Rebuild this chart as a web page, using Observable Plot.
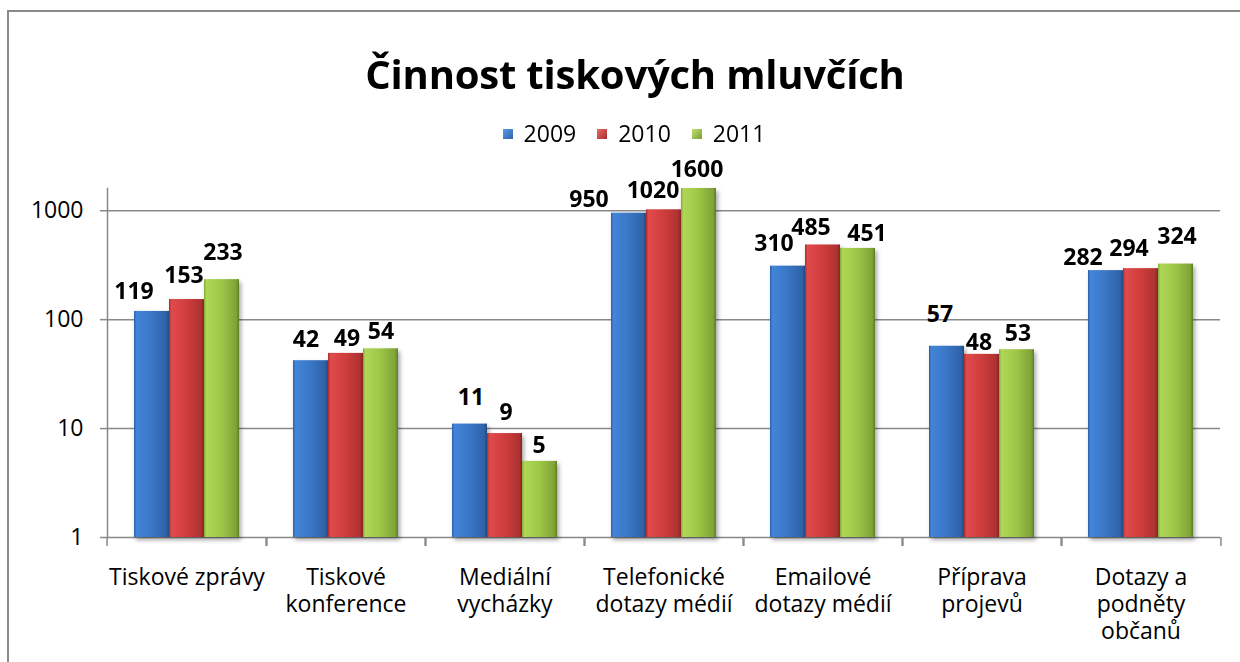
<!DOCTYPE html>
<html>
<head>
<meta charset="utf-8">
<script src="https://cdn.jsdelivr.net/npm/d3@7"></script>
<script src="https://cdn.jsdelivr.net/npm/@observablehq/plot@0.6"></script>
<style>
  html, body { margin: 0; padding: 0; background: #fff; }
  body { width: 1240px; height: 662px; overflow: hidden; position: relative; font-family: "Open Sans", sans-serif; color: #000; }
  #chart { position: absolute; left: 0; top: 0; }
  #frame { position: absolute; left: 7px; top: 10px; width: 1300px; height: 700px; border-top: 2px solid #8a8a8a; border-left: 2px solid #8a8a8a; pointer-events: none; }
  #title { position: absolute; left: 0; top: 54px; width: 1270px; text-align: center; font-weight: 700; font-size: 40px; line-height: 1; white-space: nowrap; letter-spacing: -0.2px; }
  #legend { position: absolute; left: 0; top: 122px; width: 1268px; display: flex; justify-content: center; align-items: center; font-size: 23px; line-height: 1; }
  .item { display: flex; align-items: center; margin: 0 10.5px; }
  .sw { width: 10px; height: 10px; margin-right: 11px; }
</style>
</head>
<body>
<div id="chart"></div>
<div id="frame"></div>
<div id="title">Činnost tiskových mluvčích</div>
<div id="legend"></div>
<svg width="0" height="0" style="position:absolute">
  <defs>
    <linearGradient id="gb" x1="0" x2="1" y1="0" y2="0">
      <stop offset="0" stop-color="#2b5fa6"/>
      <stop offset="0.07" stop-color="#4285d8"/>
      <stop offset="0.5" stop-color="#3a76c6"/>
      <stop offset="0.92" stop-color="#2f62a7"/>
      <stop offset="1" stop-color="#224a80"/>
    </linearGradient>
    <linearGradient id="gr" x1="0" x2="1" y1="0" y2="0">
      <stop offset="0" stop-color="#a82c2c"/>
      <stop offset="0.07" stop-color="#e04a4a"/>
      <stop offset="0.5" stop-color="#d03d3d"/>
      <stop offset="0.92" stop-color="#ad3131"/>
      <stop offset="1" stop-color="#842222"/>
    </linearGradient>
    <linearGradient id="gg" x1="0" x2="1" y1="0" y2="0">
      <stop offset="0" stop-color="#82a936"/>
      <stop offset="0.07" stop-color="#afd657"/>
      <stop offset="0.5" stop-color="#9dc647"/>
      <stop offset="0.92" stop-color="#7fa337"/>
      <stop offset="1" stop-color="#5e7c26"/>
    </linearGradient>
  </defs>
</svg>
<script>
// ---- data ----
const categories = ["Tiskové zprávy", "Tiskové konference", "Mediální vycházky", "Telefonické dotazy médií", "Emailové dotazy médií", "Příprava projevů", "Dotazy a podněty občanů"];
const tickLabels = ["Tiskové zprávy", "Tiskové\nkonference", "Mediální\nvycházky", "Telefonické\ndotazy médií", "Emailové\ndotazy médií", "Příprava\nprojevů", "Dotazy a\npodněty\nobčanů"];
const years = ["2009", "2010", "2011"];
const values2009 = [119, 42, 11, 950, 310, 57, 282];
const values2010 = [153, 49, 9, 1020, 485, 48, 294];
const values2011 = [233, 54, 5, 1600, 451, 53, 324];
const yTicks = [1, 10, 100, 1000];

// ---- styling (label nudges, px) ----
const labelDx = [[-18, -3, 1], [-5, 1, 0], [1, 1, -1], [-40, -11, -2], [-14, -12, 9], [-7, -3, 1], [-23, -12, 1]];
const labelDy = [[-12, -17, -20], [-14, -7, -10], [-19, -14, -8], [-6, -12, -12], [-15, -10, -7], [-24, -4, -9], [-6, -13, -20]];
const fills = ["url(#gb)", "url(#gr)", "url(#gg)"];
const swatchCss = [
  "linear-gradient(135deg,#5b9be6,#2e64ad)",
  "linear-gradient(135deg,#ee6a6a,#a72c2c)",
  "linear-gradient(135deg,#bfe070,#7a9f32)"
];

const series = [values2009, values2010, values2011];
const table = categories.flatMap((c, i) => years.map((y, j) => ({cat: c, year: y, value: series[j][i], i, j})));

const W = 1240, H = 662;
const mL = 104, mR = 17, mT = 188, mB = 125;
const step = (W - mL - mR) / categories.length;
const FS = 23;

const labelMarks = table.map(d => Plot.text([d], {
  fx: "cat", x: "year", y: "value",
  text: r => String(r.value),
  dx: labelDx[d.i][d.j],
  dy: labelDy[d.i][d.j] - 0.32 * FS,
  fontWeight: 700, fontSize: FS, fill: "#000"
}));

const plot = Plot.plot({
  width: W, height: H,
  marginLeft: mL, marginRight: mR, marginTop: mT, marginBottom: mB,
  style: {fontFamily: "'Open Sans', sans-serif", fontSize: FS + "px", background: "transparent", color: "#000"},
  fx: {domain: categories, padding: 0, label: null},
  x: {domain: years, paddingInner: 0, paddingOuter: 0.72, axis: null},
  y: {type: "log", domain: [1, 1600], label: null},
  color: {type: "ordinal", domain: years, range: fills},
  marks: [
    Plot.gridY(yTicks, {stroke: "#888", strokeOpacity: 1, strokeWidth: 1.5}),
    Plot.axisY(yTicks, {tickSize: 7, tickPadding: 17, fontSize: FS, tickFormat: d3.format("d"), label: null, stroke: "#888", strokeWidth: 1.5, fill: "#000"}),
    Plot.frame({anchor: "left", facetAnchor: "left", stroke: "#888", strokeWidth: 1.5}),
    Plot.axisFx({anchor: "bottom", tickSize: 0, tickPadding: 29, fontSize: FS, lineHeight: 1.16,
      tickFormat: c => tickLabels[categories.indexOf(c)], label: null, fill: "#000"}),
    Plot.axisFx({anchor: "bottom", tickSize: 9, tickFormat: () => "", label: null, dx: -step / 2, stroke: "#888", strokeWidth: 1.5}),
    Plot.axisFx([categories[categories.length - 1]], {anchor: "bottom", tickSize: 9, tickFormat: () => "", label: null, dx: step / 2, stroke: "#888", strokeWidth: 1.5}),
    Plot.barY(table, {fx: "cat", x: "year", y1: () => 1, y2: "value", fill: "year", inset: 0}),
    ...labelMarks
  ]
});

plot.querySelectorAll('g[aria-label="bar"]').forEach(g => {
  g.style.filter = "drop-shadow(2px 3px 2px rgba(0,0,0,0.35))";
});
document.getElementById("chart").appendChild(plot);

// legend
const legend = document.getElementById("legend");
years.forEach((y, j) => {
  const item = document.createElement("div");
  item.className = "item";
  const sw = document.createElement("span");
  sw.className = "sw";
  sw.style.background = swatchCss[j];
  const t = document.createElement("span");
  t.textContent = y;
  item.appendChild(sw);
  item.appendChild(t);
  legend.appendChild(item);
});
</script>
</body>
</html>
